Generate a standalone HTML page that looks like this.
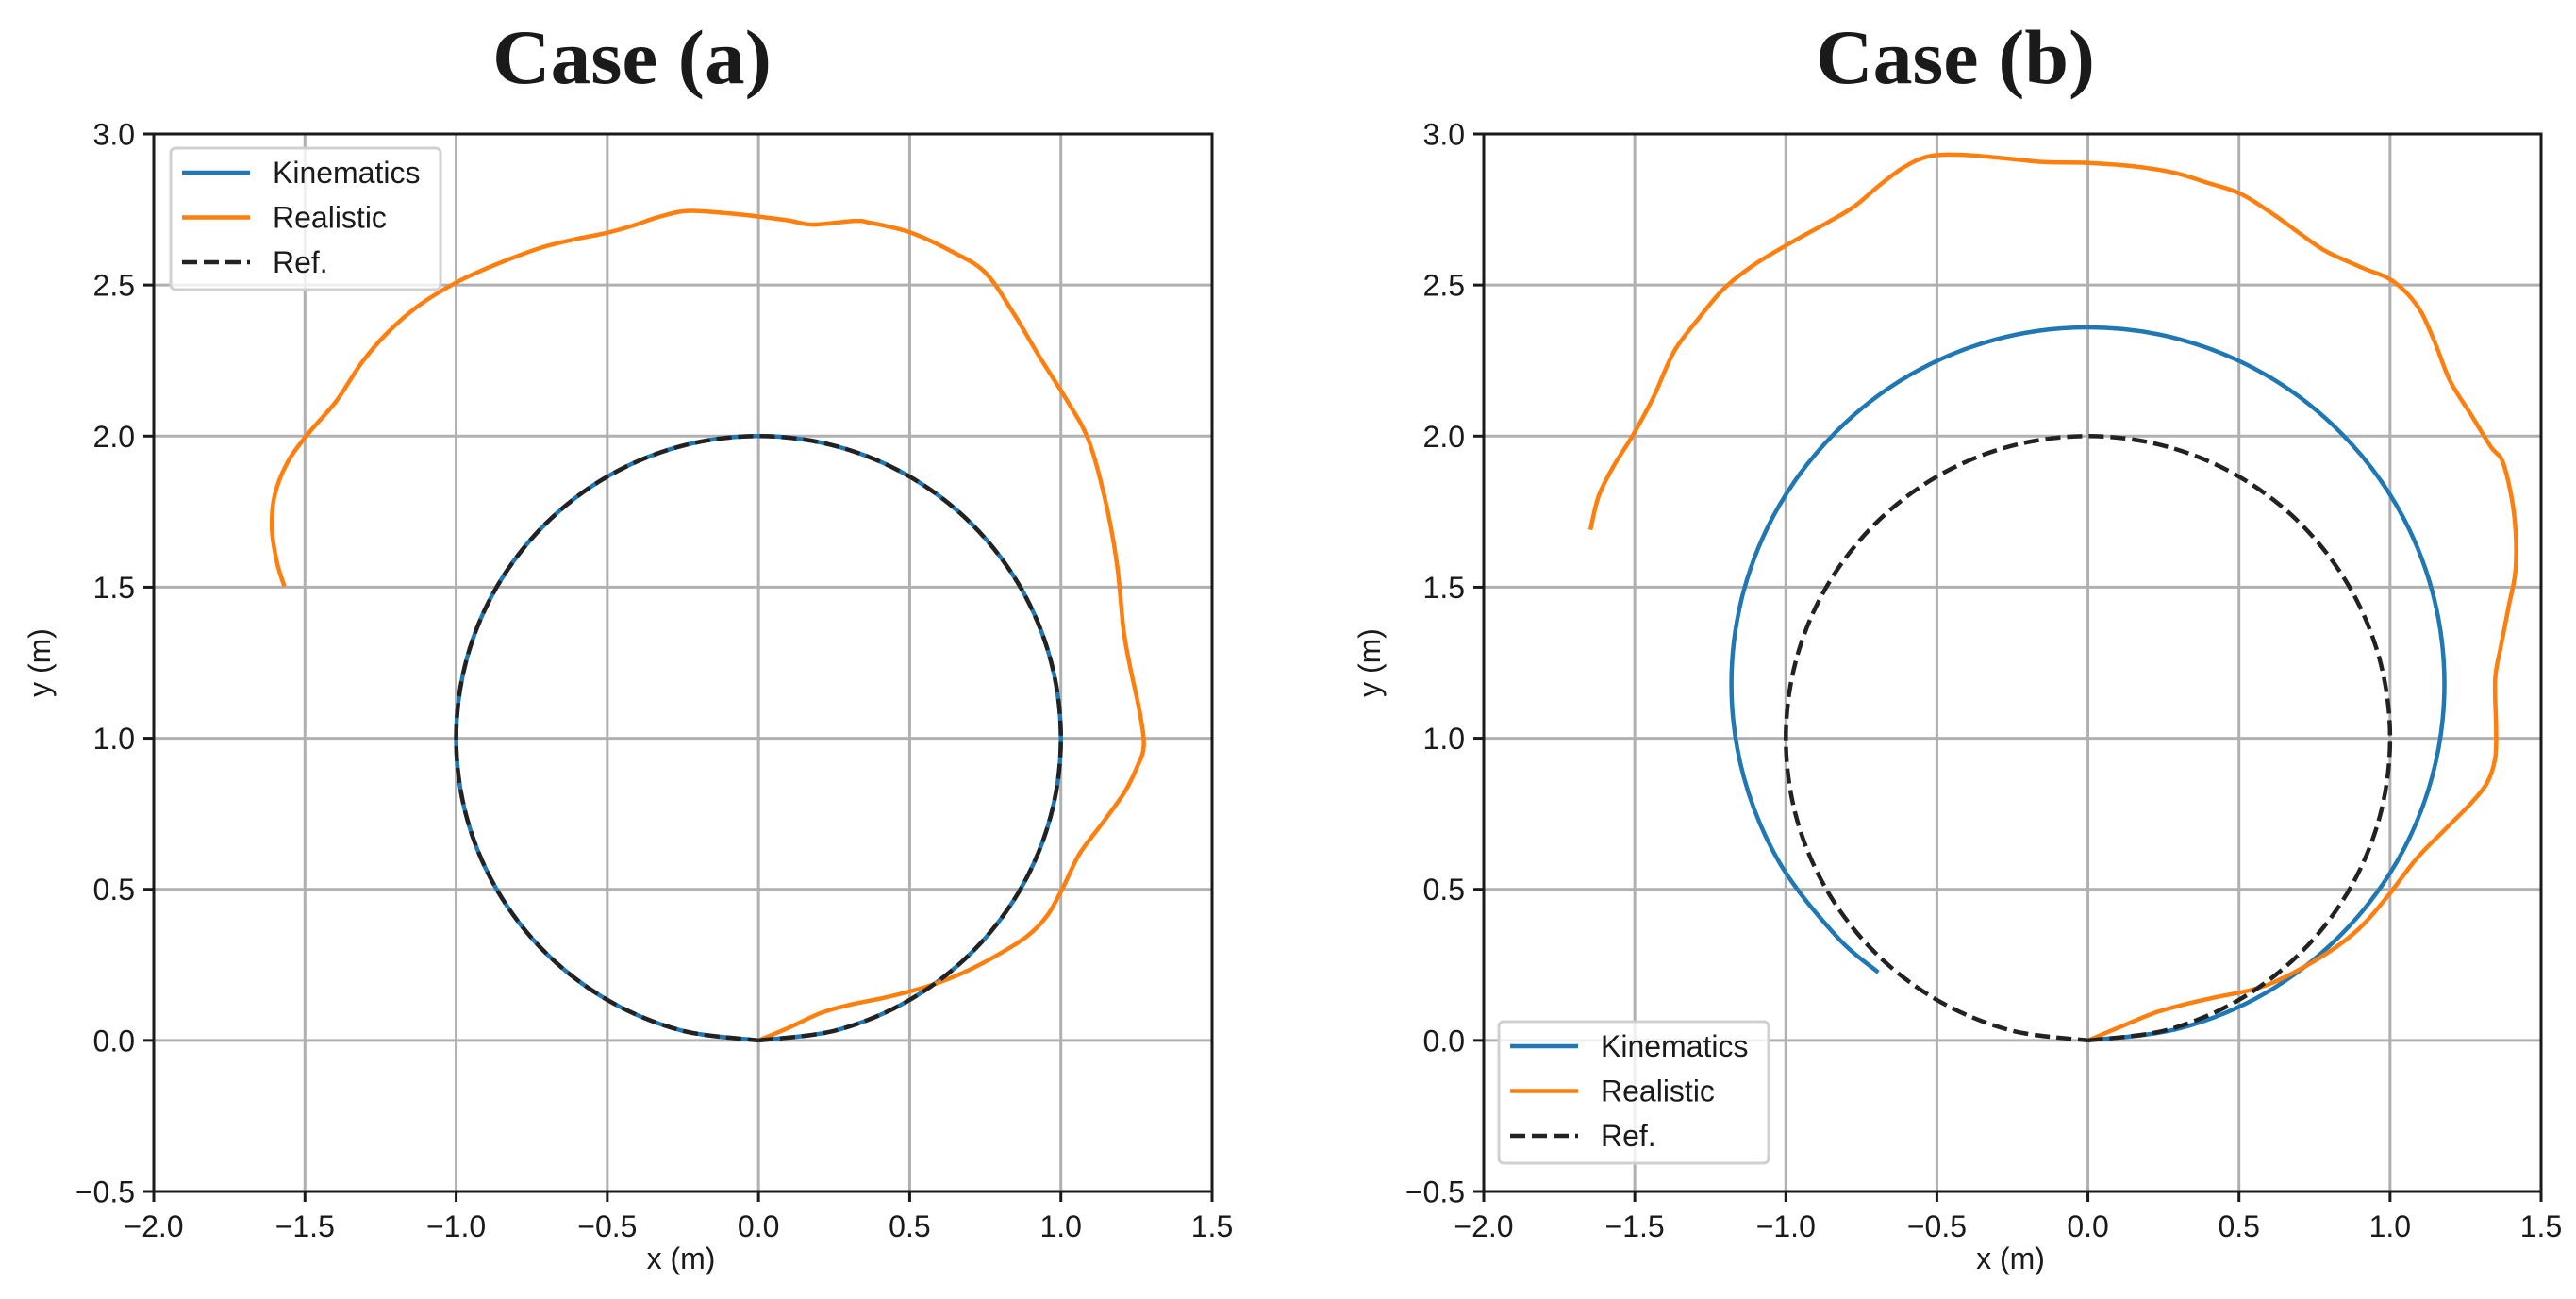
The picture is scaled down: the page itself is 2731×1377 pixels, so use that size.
<!DOCTYPE html>
<html><head><meta charset="utf-8"><style>
html,body{margin:0;padding:0;background:#fff}
svg{display:block}
text{font-family:"Liberation Sans",sans-serif;fill:#1a1a1a}
</style></head><body>
<svg id="chart" width="2731" height="1377" viewBox="0 0 2731 1377" xmlns="http://www.w3.org/2000/svg"></svg>
<script>
const xTicks=[-2.0,-1.5,-1.0,-0.5,0.0,0.5,1.0,1.5];
const yTicks=[-0.5,0.0,0.5,1.0,1.5,2.0,2.5,3.0];
const xTickLabels=["\u22122.0","\u22121.5","\u22121.0","\u22120.5","0.0","0.5","1.0","1.5"];
const yTickLabels=["\u22120.5","0.0","0.5","1.0","1.5","2.0","2.5","3.0"];
const seriesNames=["Kinematics","Realistic","Ref."];
// Case (a)
const refAX=[0,.259,.5,.707,.866,.966,1,.966,.866,.707,.5,.259,0,-.259,-.5,-.707,-.866,-.966,-1,-.966,-.866,-.707,-.5,-.259,0];
const refAY=[0,.034,.134,.293,.5,.741,1,1.259,1.5,1.707,1.866,1.966,2,1.966,1.866,1.707,1.5,1.259,1,.741,.5,.293,.134,.034,0];
const kinAX=[0,.259,.5,.707,.866,.966,1,.966,.866,.707,.5,.259,0,-.259,-.5,-.707,-.866,-.966,-1,-.966,-.866,-.707,-.5,-.259,0];
const kinAY=[0,.034,.134,.293,.5,.741,1,1.259,1.5,1.707,1.866,1.966,2,1.966,1.866,1.707,1.5,1.259,1,.741,.5,.293,.134,.034,0];
const realAX=[0,.098,.207,.302,.424,.56,.668,.777,.886,.954,1.008,1.062,1.144,1.212,1.253,1.274,1.261,1.226,1.207,1.185,1.144,1.09,1.022,.927,.845,.75,.641,.505,.37,.315,.179,.098,-.011,-.12,-.242,-.337,-.405,-.5,-.609,-.717,-.853,-.989,-1.125,-1.234,-1.315,-1.397,-1.492,-1.56,-1.601,-1.609,-1.592,-1.568];
const realAY=[0,.041,.091,.118,.143,.179,.22,.275,.343,.412,.508,.618,.728,.824,.907,.975,1.085,1.25,1.36,1.58,1.8,1.99,2.115,2.266,2.404,2.541,2.61,2.673,2.706,2.712,2.70,2.714,2.728,2.739,2.745,2.723,2.70,2.673,2.651,2.624,2.574,2.514,2.431,2.335,2.239,2.115,2.005,1.909,1.8,1.69,1.58,1.503];
// Case (b)
const refBX=refAX.slice(), refBY=refAY.slice();
const kinBX=[0,.305,.59,.834,1.022,1.140,1.18,1.140,1.022,.834,.59,.305,0,-.305,-.59,-.834,-1.022,-1.140,-1.18,-1.140,-1.022,-.834,-.694];
const kinBY=[0,.040,.158,.346,.59,.875,1.18,1.485,1.77,2.014,2.202,2.320,2.36,2.320,2.202,2.014,1.77,1.485,1.18,.875,.59,.346,.225];
const realBX=[0,.098,.22,.315,.424,.533,.614,.723,.832,.913,.995,1.09,1.185,1.266,1.321,1.348,1.351,1.348,1.367,1.394,1.416,1.41,1.375,1.334,1.266,1.198,1.144,1.09,1.008,.913,.791,.709,.614,.505,.397,.288,.152,0,-.147,-.283,-.418,-.527,-.609,-.69,-.772,-.853,-.989,-1.111,-1.207,-1.288,-1.37,-1.438,-1.505,-1.573,-1.62,-1.647];
const realBY=[0,.041,.091,.118,.143,.165,.192,.247,.316,.385,.481,.604,.701,.783,.852,.934,1.03,1.195,1.305,1.442,1.566,1.745,1.909,1.964,2.074,2.184,2.321,2.431,2.514,2.555,2.61,2.665,2.734,2.802,2.838,2.871,2.893,2.904,2.907,2.92,2.931,2.926,2.89,2.83,2.761,2.712,2.637,2.563,2.486,2.39,2.28,2.129,2.005,1.896,1.8,1.69];

const NS="http://www.w3.org/2000/svg";
const svg=document.getElementById('chart');
function mk(tag,attrs,parent){const e=document.createElementNS(NS,tag);for(const k in attrs)e.setAttribute(k,attrs[k]);(parent||svg).appendChild(e);return e;}
function smooth(pts){
  let d="M"+pts[0][0].toFixed(1)+","+pts[0][1].toFixed(1);
  for(let i=0;i<pts.length-1;i++){
    const p0=pts[Math.max(0,i-1)],p1=pts[i],p2=pts[i+1],p3=pts[Math.min(pts.length-1,i+2)];
    const c1=[p1[0]+(p2[0]-p0[0])/6,p1[1]+(p2[1]-p0[1])/6];
    const c2=[p2[0]-(p3[0]-p1[0])/6,p2[1]-(p3[1]-p1[1])/6];
    d+="C"+c1[0].toFixed(1)+","+c1[1].toFixed(1)+" "+c2[0].toFixed(1)+","+c2[1].toFixed(1)+" "+p2[0].toFixed(1)+","+p2[1].toFixed(1);
  }
  return d;
}
function panel(cfg){
  const L=cfg.left,R=cfg.right,T=142,B=1263;
  const sx=v=>L+(v-(-2))/(3.5)*(R-L);
  const sy=v=>B-(v-(-0.5))/(3.5)*(B-T);
  const g=mk('g',{});
  
  
  const t=mk('text',{x:cfg.titleX,y:88,'text-anchor':'middle','font-size':82,'font-weight':'bold',style:'font-family:"Liberation Serif",serif',textLength:296,lengthAdjust:'spacingAndGlyphs'},g);
  t.textContent=cfg.title;
  
  
  const grid=mk('g',{stroke:'#b0b0b0','stroke-width':3},g);
  
  
  xTicks.forEach((v,i)=>{
    const x=sx(v);
    mk('line',{x1:x,x2:x,y1:T,y2:B},grid);
    const tk=mk('line',{x1:x,x2:x,y1:B,y2:B+11,stroke:'#1a1a1a','stroke-width':3},g);
    
    
    const lb=mk('text',{x:x,y:1311,'text-anchor':'middle','font-size':32},g);
    lb.textContent=xTickLabels[i];
    
    
  });
  yTicks.forEach((v,i)=>{
    const y=sy(v);
    mk('line',{x1:L,x2:R,y1:y,y2:y},grid);
    const tk=mk('line',{x1:L-11,x2:L,y1:y,y2:y,stroke:'#1a1a1a','stroke-width':3},g);
    
    
    const lb=mk('text',{x:L-20,y:y+11.5,'text-anchor':'end','font-size':32},g);
    lb.textContent=yTickLabels[i];
    
    
  });
  const xl=mk('text',{x:(L+R)/2-2,y:1345,'text-anchor':'middle','font-size':32},g);
  xl.textContent='x (m)';
  
  
  const yl=mk('text',{x:0,y:0,'text-anchor':'middle','font-size':32,transform:'translate('+(L-110)+','+((T+B)/2)+') rotate(-90)'},g);
  yl.textContent='y (m)';
  
  
  const toPts=(xs,ys)=>xs.map((v,i)=>[sx(v),sy(ys[i])]);
  const k=mk('path',{d:smooth(toPts(cfg.kx,cfg.ky)),fill:'none',stroke:'#1f77b4','stroke-width':4.5},g);
  
  
  const r=mk('path',{d:smooth(toPts(cfg.rx,cfg.ry)),fill:'none',stroke:'#ff7f0e','stroke-width':4.5},g);
  
  
  const f=mk('path',{d:smooth(toPts(cfg.fx,cfg.fy)),fill:'none',stroke:'#222','stroke-width':4.5,'stroke-dasharray':'16,7'},g);
  
  
  const sp=mk('rect',{x:L,y:T,width:R-L,height:B-T,fill:'none',stroke:'#1a1a1a','stroke-width':3},g);
  
  
  // legend
  const lg=mk('g',{},g);
  
  
  mk('rect',{x:cfg.lgX,y:cfg.lgY,width:286,height:150,rx:5,fill:'#fff','fill-opacity':0.8,stroke:'#d0d0d0','stroke-width':3},lg);
  const cols=['#1f77b4','#ff7f0e','#222'];
  seriesNames.forEach((n,i)=>{
    const y=cfg.lgY+26+i*47.5;
    const ln=mk('line',{x1:cfg.lgX+12,x2:cfg.lgX+84,y1:y,y2:y,stroke:cols[i],'stroke-width':4.5},lg);
    if(i===2) ln.setAttribute('stroke-dasharray','16,7');
    
    
    const tx=mk('text',{x:cfg.lgX+108,y:y+11,'font-size':32},lg);
    tx.textContent=n;
    
    
  });
}
panel({name:'case-a-panel',title:'Case (a)',titleX:670,left:163,right:1285,kx:kinAX,ky:kinAY,rx:realAX,ry:realAY,fx:refAX,fy:refAY,lgX:181,lgY:157});
panel({name:'case-b-panel',title:'Case (b)',titleX:2073,left:1573,right:2694,kx:kinBX,ky:kinBY,rx:realBX,ry:realBY,fx:refBX,fy:refBY,lgX:1589,lgY:1083});
</script>
</body></html>
